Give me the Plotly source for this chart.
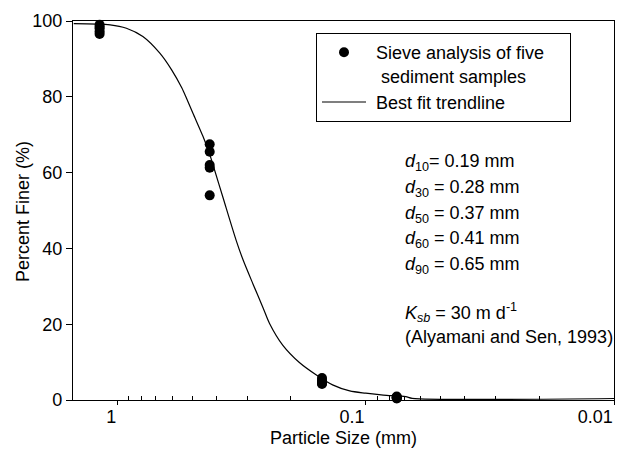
import plotly.graph_objects as go

# Sieve analysis data (particle size in mm, percent finer)
sieve_sizes = [1.18, 1.18, 1.18, 1.18, 1.18,
               0.425, 0.425, 0.425, 0.425, 0.425,
               0.15, 0.15, 0.15, 0.15, 0.15,
               0.075, 0.075, 0.075, 0.075, 0.075]
percent_finer = [99.0, 98.5, 98.0, 97.2, 96.6,
                 67.5, 65.5, 62.0, 61.3, 54.0,
                 5.8, 5.2, 4.8, 4.4, 4.2,
                 0.9, 0.7, 0.6, 0.5, 0.4]

# Best-fit trendline
trend_sizes = [1.5, 1.07, 0.92, 0.79, 0.675, 0.605, 0.55, 0.527, 0.496, 0.452,
               0.425, 0.412, 0.376, 0.332, 0.312, 0.284, 0.259, 0.244, 0.216,
               0.185, 0.158, 0.136, 0.116, 0.1, 0.085, 0.069, 0.065, 0.01]
trend_percent = [99.3, 99.0, 98.1, 95.9, 91.5, 87.1, 82.3, 79.6, 75.6, 69.5,
                 64.8, 62.0, 53.5, 42.0, 37.0, 30.5, 24.3, 20.2, 14.5,
                 9.9, 6.6, 4.0, 2.4, 1.8, 1.3, 0.9, 0.45, 0.4]

x_major = [1, 0.1, 0.01]
x_major_text = ["1", "0.1", "0.01"]
x_minor = [0.9, 0.8, 0.7, 0.6, 0.5, 0.4, 0.3, 0.2,
           0.09, 0.08, 0.07, 0.06, 0.05, 0.04, 0.03, 0.02]
y_ticks = [0, 20, 40, 60, 80, 100]

info_lines = [
    "<i>d</i><sub>10</sub>= 0.19 mm",
    "<i>d</i><sub>30</sub> = 0.28 mm",
    "<i>d</i><sub>50</sub> = 0.37 mm",
    "<i>d</i><sub>60</sub> = 0.41 mm",
    "<i>d</i><sub>90</sub> = 0.65 mm",
    "<i>K<sub>sb</sub></i> = 30 m d<sup>-1</sup>",
    "(Alyamani and Sen, 1993)",
]
info_y_px = [163, 188, 214, 239, 265, 312, 337]

FONT = "Liberation Sans, Arial, Helvetica, sans-serif"
FS = 18
# The page body has an 8px margin; size the figure so the plot area lands
# at screen x 73..614, y 21..400 in the 628x453 window.
OFF = 8
W, H = 628 - OFF, 453 - OFF
L, R, T, B = 73 - OFF, 14, 21 - OFF, 53
pw, ph = W - L - R, H - T - B
PX0, PY1 = 73, 400  # screen coords of plot-area left / bottom

fig = go.Figure()
fig.add_trace(go.Scatter(
    x=sieve_sizes, y=percent_finer, mode="markers",
    marker=dict(color="black", size=10),
    name="\u00a0Sieve analysis of five\u00a0\u00a0\u00a0\u00a0<br>\u00a0\u00a0sediment samples",
    cliponaxis=False,
))
fig.add_trace(go.Scatter(
    x=trend_sizes, y=trend_percent, mode="lines",
    line=dict(color="black", width=1.2, shape="spline", smoothing=0.8),
    name="\u00a0Best fit trendline",
))

for txt, ypx in zip(info_lines, info_y_px):
    fig.add_annotation(
        text=txt, xref="paper", yref="paper",
        x=(402.7 - PX0) / pw, y=(PY1 - ypx) / ph,
        xanchor="left", yanchor="middle", showarrow=False,
        font=dict(family=FONT, size=FS, color="black"),
    )

fig.add_annotation(
    text="Percent Finer (%)", xref="paper", yref="paper",
    x=(23 - PX0) / pw, y=(PY1 - 212) / ph, textangle=-90,
    xanchor="center", yanchor="middle", showarrow=False,
    font=dict(family=FONT, size=FS, color="black"),
)
fig.add_annotation(
    text="Particle Size (mm)", xref="paper", yref="paper",
    x=0.5, y=(PY1 - 438) / ph,
    xanchor="center", yanchor="middle", showarrow=False,
    font=dict(family=FONT, size=FS, color="black"),
)

fig.update_layout(
    width=W, height=H,
    margin=dict(l=L, r=R, t=T, b=B, autoexpand=False),
    paper_bgcolor="white", plot_bgcolor="white",
    font=dict(family=FONT, size=FS, color="black"),
    showlegend=True,
    legend=dict(
        x=(316 - PX0) / pw, y=(PY1 - 33) / ph, xanchor="left", yanchor="top",
        bordercolor="black", borderwidth=1, bgcolor="white",
        font=dict(family=FONT, size=FS, color="black"),
        valign="top", tracegroupgap=0, itemwidth=44,
    ),
    xaxis=dict(
        type="log", range=[0.179, -2], automargin=False,
        tickmode="array", tickvals=x_major, ticktext=x_major_text,
        ticks="outside", ticklen=4, tickwidth=1, tickcolor="black",
        ticklabelposition="outside left", ticklabeloverflow="allow",
        minor=dict(tickvals=x_minor, ticks="inside", ticklen=4,
                   tickwidth=1, tickcolor="black", showgrid=False),
        showline=True, linecolor="black", linewidth=1.3, mirror=True,
        showgrid=False, zeroline=False,
        tickfont=dict(family=FONT, size=FS, color="black"),
    ),
    yaxis=dict(
        range=[0, 100], tickmode="array", tickvals=y_ticks, automargin=False,
        ticks="outside", ticklen=6, tickwidth=1, tickcolor="black",
        ticklabeloverflow="allow",
        showline=True, linecolor="black", linewidth=1.3, mirror=True,
        showgrid=False, zeroline=False,
        tickfont=dict(family=FONT, size=FS, color="black"),
    ),
)

fig.write_html("out.html")
